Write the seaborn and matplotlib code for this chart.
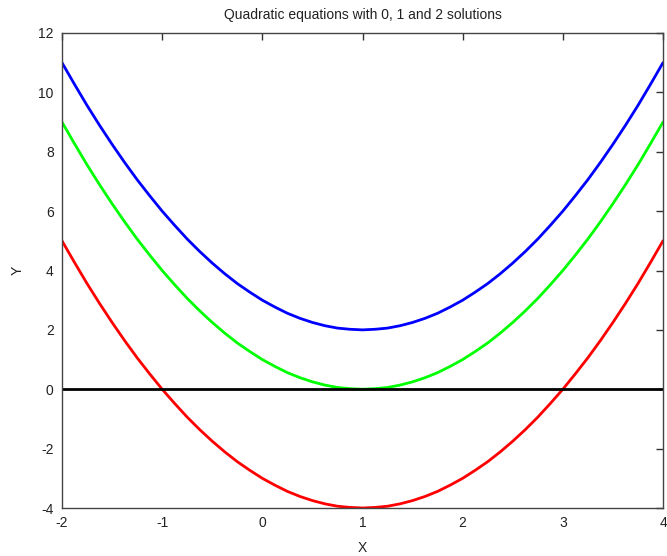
import matplotlib
matplotlib.use("Agg")
import matplotlib.pyplot as plt
import seaborn as sns
import pandas as pd

# x positions and curve values
x_vals = [-2.0, -1.875, -1.75, -1.625, -1.5, -1.375, -1.25, -1.125, -1.0, -0.875, -0.75, -0.625,
          -0.5, -0.375, -0.25, -0.125, 0.0, 0.125, 0.25, 0.375, 0.5, 0.625, 0.75, 0.875,
          1.0, 1.125, 1.25, 1.375, 1.5, 1.625, 1.75, 1.875, 2.0, 2.125, 2.25, 2.375,
          2.5, 2.625, 2.75, 2.875, 3.0, 3.125, 3.25, 3.375, 3.5, 3.625, 3.75, 3.875, 4.0]
green_vals = [9.0, 8.27, 7.56, 6.89, 6.25, 5.64, 5.06, 4.52, 4.0, 3.52, 3.06, 2.64,
              2.25, 1.89, 1.56, 1.27, 1.0, 0.77, 0.56, 0.39, 0.25, 0.14, 0.06, 0.02,
              0.0, 0.02, 0.06, 0.14, 0.25, 0.39, 0.56, 0.77, 1.0, 1.27, 1.56, 1.89,
              2.25, 2.64, 3.06, 3.52, 4.0, 4.52, 5.06, 5.64, 6.25, 6.89, 7.56, 8.27, 9.0]
blue_vals = [11.0, 10.27, 9.56, 8.89, 8.25, 7.64, 7.06, 6.52, 6.0, 5.52, 5.06, 4.64,
             4.25, 3.89, 3.56, 3.27, 3.0, 2.77, 2.56, 2.39, 2.25, 2.14, 2.06, 2.02,
             2.0, 2.02, 2.06, 2.14, 2.25, 2.39, 2.56, 2.77, 3.0, 3.27, 3.56, 3.89,
             4.25, 4.64, 5.06, 5.52, 6.0, 6.52, 7.06, 7.64, 8.25, 8.89, 9.56, 10.27, 11.0]
red_vals = [5.0, 4.27, 3.56, 2.89, 2.25, 1.64, 1.06, 0.52, 0.0, -0.48, -0.94, -1.36,
            -1.75, -2.11, -2.44, -2.73, -3.0, -3.23, -3.44, -3.61, -3.75, -3.86, -3.94, -3.98,
            -4.0, -3.98, -3.94, -3.86, -3.75, -3.61, -3.44, -3.23, -3.0, -2.73, -2.44, -2.11,
            -1.75, -1.36, -0.94, -0.48, 0.0, 0.52, 1.06, 1.64, 2.25, 2.89, 3.56, 4.27, 5.0]
x_ticks = [-2, -1, 0, 1, 2, 3, 4]
y_ticks = [-4, -2, 0, 2, 4, 6, 8, 10, 12]

sns.set_style("white")
plt.rcParams["font.family"] = ["Liberation Sans", "DejaVu Sans"]
plt.rcParams["axes.unicode_minus"] = False

df = pd.DataFrame({"x": x_vals, "blue": blue_vals, "green": green_vals, "red": red_vals})

fig = plt.figure(figsize=(6.67, 5.56), dpi=100)
ax = fig.add_axes([62 / 667, 1 - 508 / 556, (663 - 62) / 667, (508 - 33) / 556])

sns.lineplot(data=df, x="x", y="blue", color="#0000ff", linewidth=2.0, sort=False, ax=ax)
sns.lineplot(data=df, x="x", y="green", color="#00ff00", linewidth=2.0, sort=False, ax=ax)
sns.lineplot(data=df, x="x", y="red", color="#ff0000", linewidth=2.0, sort=False, ax=ax)
ax.axhline(0, color="black", linewidth=2.0)

ax.set_xlim(-2, 4)
ax.set_ylim(-4, 12)
ax.set_xticks(x_ticks)
ax.set_yticks(y_ticks)
ax.tick_params(direction="in", length=5, width=1, color="#333333", labelsize=10,
               top=True, right=True, labelcolor="#222222", pad=6)
for sp in ax.spines.values():
    sp.set_color("#444444")
    sp.set_linewidth(1)

ax.set_title("Quadratic equations with 0, 1 and 2 solutions", fontsize=10, color="#222222", pad=10)
ax.set_xlabel("X", fontsize=10, color="#222222", labelpad=8)
ax.set_ylabel("Y", fontsize=10, color="#222222", labelpad=10)

fig.savefig("out.png", dpi=100)
